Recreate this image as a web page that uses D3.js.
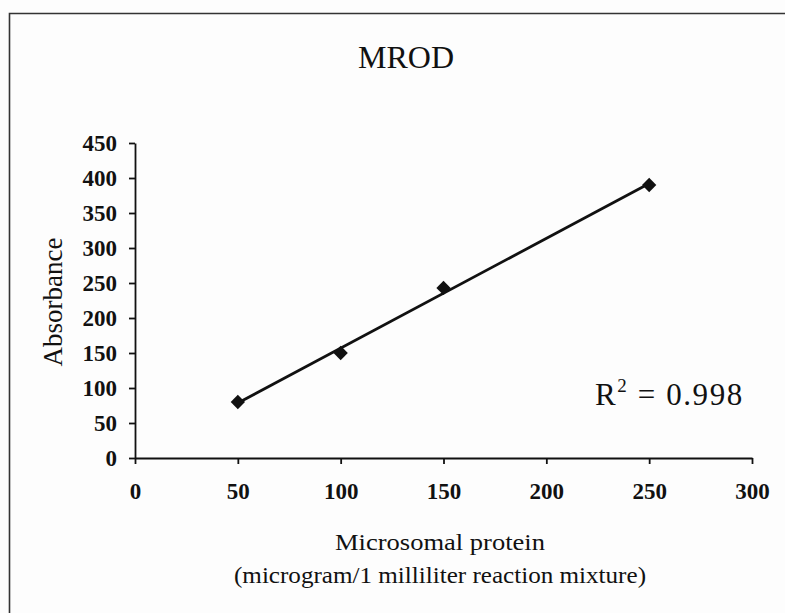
<!DOCTYPE html>
<html>
<head>
<meta charset="utf-8">
<script src="https://d3js.org/d3.v7.min.js"></script>
<style>
  body { margin: 0; background: #fff; }
  text { font-family: "Liberation Serif", "Times New Roman", serif; fill: #111; }
</style>
</head>
<body>
<div id="chart"></div>
<script>
const protein = [50, 100, 150, 250];
const absorbance = [80, 150, 243, 390];
const xTicks = [0, 50, 100, 150, 200, 250, 300];
const yTicks = [0, 50, 100, 150, 200, 250, 300, 350, 400, 450];
const r2Label = "0.998";

const w = 785, h = 613;
const svg = d3.select("#chart").append("svg")
  .attr("width", w).attr("height", h);

svg.append("rect")
  .attr("width", w).attr("height", h)
  .attr("fill", "#fdfdfd");

// frame: only top and left edges are inside the picture
svg.append("path")
  .attr("d", "M9.5,613V13.5H785")
  .attr("fill", "none")
  .attr("stroke", "#333").attr("stroke-width", 1.6);

const xScale = d3.scaleLinear().domain([0, 300]).range([135, 752]);
const yScale = d3.scaleLinear().domain([0, 450]).range([458, 143]);

const xAxis = d3.axisBottom(xScale).tickValues(xTicks).tickSize(6).tickPadding(19).tickSizeOuter(0);
const yAxis = d3.axisLeft(yScale).tickValues(yTicks).tickSize(6).tickPadding(12).tickSizeOuter(0);

const gx = svg.append("g").attr("transform", "translate(0," + yScale(0) + ")").call(xAxis);
const gy = svg.append("g").attr("transform", "translate(" + xScale(0) + ",0)").call(yAxis);

[gx, gy].forEach(g => {
  g.selectAll("path, line").attr("stroke", "#111").attr("stroke-width", 1.8);
  g.selectAll("text")
    .style("font-family", '"Liberation Serif", serif')
    .style("font-size", "23px")
    .style("font-weight", "bold")
    .attr("fill", "#1a1a1a");
});

// linear trendline (least squares)
const mx = d3.mean(protein), my = d3.mean(absorbance);
const sxy = d3.sum(protein, (x, i) => (x - mx) * (absorbance[i] - my));
const sxx = d3.sum(protein, x => (x - mx) * (x - mx));
const slope = sxy / sxx, intercept = my - slope * mx;
const x0 = d3.min(protein), x1 = d3.max(protein);

svg.append("line")
  .attr("x1", xScale(x0)).attr("y1", yScale(intercept + slope * x0))
  .attr("x2", xScale(x1)).attr("y2", yScale(intercept + slope * x1))
  .attr("stroke", "#111").attr("stroke-width", 2.8);

svg.selectAll(".pt")
  .data(protein)
  .enter()
  .append("path")
  .attr("class", "pt")
  .attr("d", d3.symbol().type(d3.symbolDiamond2).size(130))
  .attr("transform", (d, i) => "translate(" + xScale(d) + "," + yScale(absorbance[i]) + ")")
  .attr("fill", "#111");

svg.append("text")
  .attr("x", 406).attr("y", 68)
  .attr("text-anchor", "middle")
  .style("font-size", "32px")
  .text("MROD");

svg.append("text")
  .attr("transform", "translate(62,302) rotate(-90)")
  .attr("text-anchor", "middle")
  .style("font-size", "27px")
  .text("Absorbance");

svg.append("text")
  .attr("x", 440).attr("y", 550)
  .attr("text-anchor", "middle")
  .attr("textLength", 210)
  .attr("lengthAdjust", "spacingAndGlyphs")
  .style("font-size", "23px")
  .text("Microsomal protein");

svg.append("text")
  .attr("x", 440).attr("y", 583)
  .attr("text-anchor", "middle")
  .attr("textLength", 412)
  .attr("lengthAdjust", "spacingAndGlyphs")
  .style("font-size", "23px")
  .text("(microgram/1 milliliter reaction mixture)");

const r2 = svg.append("text")
  .attr("x", 595).attr("y", 405)
  .style("font-size", "31px")
  .style("letter-spacing", "1.6px");
r2.append("tspan").text("R");
r2.append("tspan").attr("dy", -13).style("font-size", "19px").text("2");
r2.append("tspan").attr("dy", 13).text(" = " + r2Label);
</script>
</body>
</html>
